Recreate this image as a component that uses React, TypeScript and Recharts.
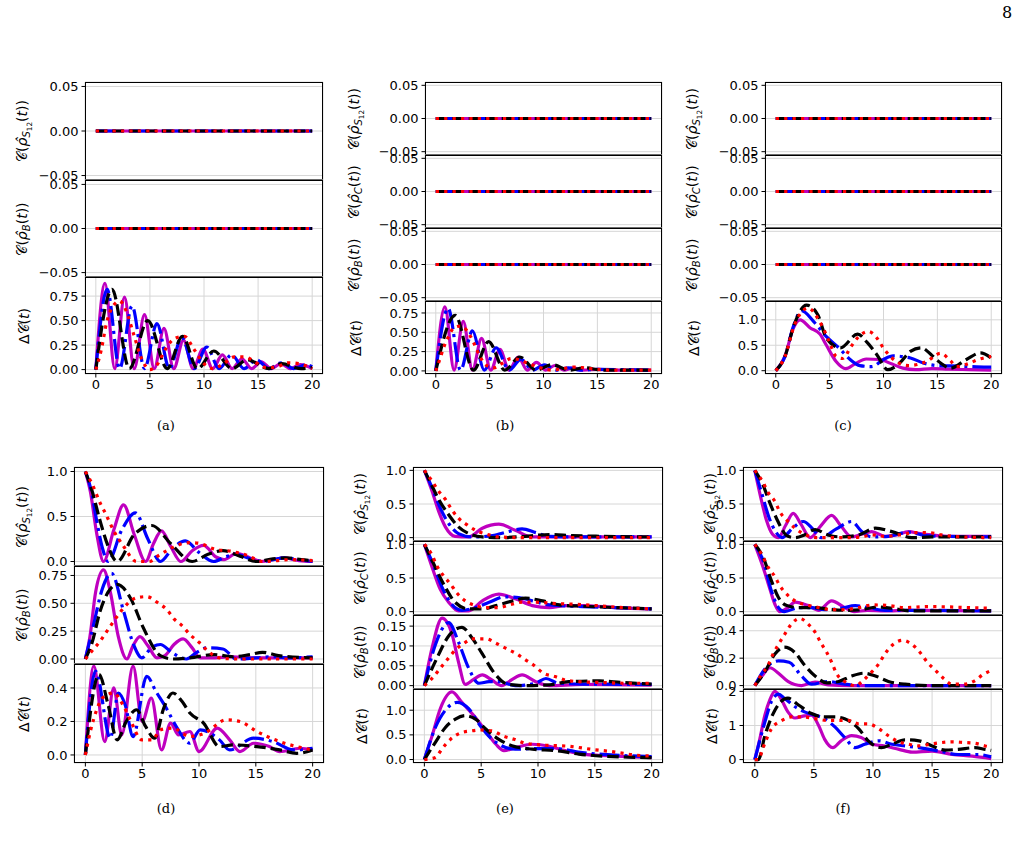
import React from "react"
import { LineChart, Line, XAxis, YAxis, CartesianGrid } from "recharts"

// each series: [t, value]
// order everywhere: magenta (solid), blue (dash-dot), black (dashed), red (dotted)

const xTicks = [0, 5, 10, 15, 20]
const zeroTicks = [-0.05, 0, 0.05]
const flat = [[0, 0], [20, 0]]

// (a) ΔC
const aM = [[0,0],[0.85,0.88],[1.75,0.01],[2.65,0.74],[3.55,0.01],[4.5,0.56],[5.4,0.01],[6.3,0.42],[7.2,0.01],[8.1,0.3],[9.0,0.01],[9.9,0.21],[10.8,0.01],[11.7,0.15],[12.6,0.01],[13.5,0.11],[14.4,0.01],[15.3,0.08],[16.2,0.01],[17.1,0.06],[18.0,0.01],[18.9,0.05],[20,0.01]]
const aB = [[0,0],[1.05,0.82],[2.2,0.01],[3.35,0.65],[4.5,0.01],[5.65,0.47],[6.8,0.01],[7.95,0.33],[9.1,0.01],[10.25,0.23],[11.4,0.01],[12.55,0.15],[13.7,0.01],[14.85,0.1],[16.0,0.01],[17.15,0.07],[18.3,0.01],[19.45,0.05],[20,0.03]]
const aK = [[0,0],[1.5,0.82],[3.1,0.01],[4.8,0.5],[6.6,0.01],[8.0,0.34],[9.4,0.01],[10.9,0.19],[12.6,0.01],[14.0,0.1],[16.0,0.01],[17.2,0.06],[19.0,0.01],[20,0.02]]
const aR = [[0,0],[0.5,0.2],[1.0,0.48],[1.6,0.65],[2.2,0.7],[2.8,0.6],[3.5,0.36],[4.2,0.12],[5.0,0.0],[5.6,0.04],[6.5,0.22],[7.3,0.32],[8.2,0.34],[9.0,0.22],[10.0,0.06],[10.8,0.01],[11.8,0.06],[12.8,0.13],[13.8,0.13],[14.8,0.07],[15.8,0.02],[16.8,0.03],[17.8,0.07],[18.8,0.06],[20,0.01]]

// (b) ΔC
const bM = [[0,0],[0.85,0.83],[1.7,0.01],[2.55,0.64],[3.4,0.01],[4.25,0.42],[5.1,0.01],[5.95,0.28],[6.8,0.01],[7.65,0.18],[8.5,0.01],[9.35,0.11],[10.2,0.01],[11.05,0.07],[11.9,0.01],[12.75,0.04],[13.6,0.01],[15,0.02],[17,0.01],[20,0.01]]
const bB = [[0,0],[1.15,0.81],[2.3,0.01],[3.4,0.52],[4.5,0.01],[5.6,0.3],[6.8,0.01],[7.9,0.15],[9.0,0.01],[10.1,0.08],[11.2,0.01],[12.3,0.04],[13.4,0.01],[15,0.02],[20,0.01]]
const bK = [[0,0],[1.8,0.72],[3.5,0.01],[4.9,0.38],[6.4,0.01],[7.8,0.18],[9.3,0.01],[10.8,0.08],[12.4,0.01],[13.8,0.04],[15.5,0.01],[20,0.01]]
const bR = [[0,0],[0.4,0.16],[0.7,0.29],[1.2,0.45],[1.7,0.56],[2.3,0.58],[2.9,0.52],[3.5,0.37],[4.1,0.19],[4.6,0.08],[5.4,0.04],[6.2,0.1],[7.0,0.16],[7.8,0.14],[8.7,0.09],[9.7,0.04],[10.8,0.01],[11.8,0.03],[12.8,0.05],[13.8,0.04],[15,0.02],[16.5,0.01],[20,0.01]]

// (c) ΔC
const cM = [[0,0],[0.85,0.28],[1.6,0.82],[2.25,1.0],[3.2,0.84],[4.1,0.72],[4.7,0.5],[5.6,0.18],[6.5,0.04],[7.4,0.14],[8.4,0.23],[9.6,0.22],[10.8,0.13],[11.8,0.05],[13.0,0.02],[14.5,0.04],[16,0.03],[18,0.02],[20,0.01]]
const cB = [[0,0],[0.85,0.28],[1.6,0.85],[2.4,1.18],[3.5,0.97],[4.7,0.67],[5.9,0.44],[6.9,0.22],[7.8,0.1],[8.9,0.08],[10.0,0.22],[10.9,0.29],[12.5,0.25],[13.7,0.15],[15,0.1],[17,0.09],[19.6,0.07],[20,0.07]]
const cK = [[0,0],[0.85,0.28],[1.7,0.9],[2.85,1.29],[3.9,1.1],[4.7,0.64],[6.0,0.45],[7.6,0.72],[8.5,0.55],[9.4,0.31],[10.4,0.02],[11.5,0.15],[12.5,0.38],[13.5,0.45],[14.5,0.3],[15.3,0.15],[16.2,0.05],[17.7,0.22],[19.0,0.35],[20,0.25]]
const cR = [[0,0],[0.85,0.28],[1.7,0.88],[3.0,1.23],[3.9,1.03],[4.4,0.84],[5.0,0.55],[5.6,0.28],[6.2,0.24],[7.0,0.48],[7.7,0.67],[8.6,0.77],[9.4,0.64],[10.0,0.44],[11.2,0.18],[12.3,0.1],[14.0,0.18],[15.3,0.34],[16.2,0.2],[16.8,0.08],[18.0,0.15],[18.8,0.22],[20,0.28]]

// (d)
const dM1 = [[0,1],[0.45,0.77],[1.0,0.31],[1.6,0.0],[2.5,0.35],[3.36,0.63],[4.3,0.3],[5.3,0.0],[6.0,0.2],[6.7,0.34],[7.5,0.17],[8.4,0.0],[9.4,0.12],[10.4,0.18],[11.5,0.05],[12.2,0.02],[13.3,0.09],[14.5,0.04],[15.5,0.0],[16.5,0.02],[17.5,0.04],[18.8,0.01],[20,0.0]]
const dB1 = [[0,1],[0.5,0.8],[1.0,0.45],[1.5,0.15],[2.0,0.0],[3.2,0.35],[4.4,0.54],[5.5,0.25],[6.6,0.0],[7.7,0.15],[8.8,0.23],[10.0,0.1],[11.3,0.0],[12.3,0.05],[13.3,0.08],[14.5,0.03],[15.6,0.0],[16.5,0.02],[17.5,0.04],[18.8,0.02],[20,0.0]]
const dK1 = [[0,1],[0.6,0.78],[1.3,0.45],[2.0,0.17],[2.8,0.0],[4.3,0.3],[5.85,0.4],[7.5,0.2],[9.4,0.0],[10.8,0.08],[12.1,0.12],[13.6,0.06],[15.1,0.0],[16.5,0.03],[17.7,0.04],[19,0.02],[20,0.01]]
const dR1 = [[0,1],[0.6,0.86],[1.3,0.65],[1.75,0.54],[2.5,0.34],[3.36,0.17],[4.5,0.0],[5.6,0.0],[6.5,0.07],[7.3,0.13],[8.3,0.19],[9.2,0.21],[10.1,0.2],[11.3,0.14],[13.0,0.11],[14.2,0.07],[15.6,0.0],[16.8,0.01],[18,0.02],[20,0.01]]

const dM2 = [[0,0],[0.4,0.2],[0.9,0.6],[1.6,0.8],[2.2,0.6],[2.9,0.2],[3.65,0.0],[4.2,0.12],[4.8,0.2],[5.5,0.12],[6.3,0.01],[7.0,0.03],[7.8,0.13],[8.6,0.18],[9.4,0.1],[10.1,0.01],[11,0.01],[13,0.02],[15,0.01],[20,0.01]]
const dB2 = [[0,0],[0.73,0.31],[1.46,0.62],[2.3,0.77],[3.36,0.43],[4.24,0.13],[4.97,0.01],[5.8,0.1],[6.6,0.13],[7.6,0.06],[8.9,0.0],[9.8,0.06],[10.7,0.1],[12.1,0.09],[13.3,0.0],[15,0.01],[16.5,0.02],[18,0.01],[20,0.02]]
const dK2 = [[0,0],[0.6,0.15],[1.3,0.43],[2.0,0.6],[2.8,0.67],[3.95,0.55],[5.1,0.28],[6.6,0.03],[7.7,0.0],[9.2,0.01],[11.3,0.04],[13.0,0.02],[14.5,0.04],[15.6,0.06],[17,0.03],[20,0.01]]
const dR2 = [[0,0],[0.73,0.09],[1.3,0.16],[1.9,0.25],[2.5,0.34],[3.07,0.42],[3.65,0.49],[4.5,0.55],[5.4,0.56],[6.3,0.51],[7.2,0.44],[7.8,0.36],[8.5,0.3],[9.2,0.22],[10.0,0.15],[10.8,0.07],[11.8,0.01],[13.3,0.0],[16,0.0],[20,0.0]]

const dM3 = [[0,0],[0.75,0.53],[1.7,0.08],[2.5,0.4],[3.2,0.12],[4.2,0.53],[5.0,0.2],[5.8,0.34],[6.7,0.03],[7.5,0.19],[8.2,0.12],[9.2,0.14],[10.0,0.02],[11.6,0.16],[12.7,0.09],[13.6,0.02],[14.8,0.07],[16.2,0.05],[17.1,0.02],[18.9,0.04],[20,0.03]]
const dB3 = [[0,0],[0.9,0.5],[2.2,0.1],[2.9,0.37],[3.5,0.3],[4.2,0.11],[5.4,0.47],[6.2,0.38],[7.2,0.27],[8.0,0.17],[9.2,0.07],[10.1,0.15],[11.8,0.09],[12.7,0.03],[14.8,0.1],[16.5,0.08],[18.3,0.03],[20,0.04]]
const dK3 = [[0,0],[1.2,0.48],[2.0,0.3],[2.8,0.09],[3.6,0.2],[4.5,0.27],[5.3,0.17],[6.1,0.1],[6.9,0.28],[7.7,0.37],[8.5,0.32],[9.2,0.25],[10.4,0.19],[11.8,0.05],[13.0,0.06],[15.1,0.05],[17.1,0.03],[18.6,0.01],[20,0.03]]
const dR3 = [[0,0],[0.44,0.14],[1.0,0.27],[1.5,0.34],[2.5,0.37],[3.3,0.3],[3.95,0.21],[4.97,0.09],[5.9,0.09],[6.6,0.15],[7.7,0.16],[9.2,0.11],[10.5,0.13],[12.4,0.21],[13.6,0.2],[15.1,0.14],[17.1,0.08],[18.6,0.05],[20,0.03]]

// (e)
const eM1 = [[0,1],[0.68,0.69],[1.26,0.39],[1.85,0.16],[2.7,0.02],[3.9,0.01],[5.1,0.14],[6.55,0.2],[8.0,0.11],[9.5,0.01],[12,0.01],[20,0.01]]
const eB1 = [[0,1],[0.68,0.74],[1.4,0.44],[2.14,0.21],[3.0,0.06],[4.2,0.01],[6.0,0.03],[7.4,0.09],[8.6,0.13],[9.8,0.075],[11,0.02],[14,0.01],[20,0.01]]
const eK1 = [[0,1],[0.53,0.82],[1.26,0.57],[2.14,0.34],[3.0,0.16],[3.9,0.06],[5.1,0.01],[6.8,0.0],[8.9,0.02],[11,0.045],[13,0.03],[15.4,0.02],[20,0.01]]
const eR1 = [[0,1],[0.68,0.84],[1.26,0.69],[1.85,0.57],[2.43,0.41],[3.0,0.29],[3.76,0.19],[4.6,0.1],[5.5,0.05],[6.55,0.01],[9,0.0],[20,0.0]]

const eM2 = [[0,1],[0.68,0.66],[1.4,0.33],[2.14,0.14],[3.0,0.01],[3.9,0.01],[5.1,0.16],[6.55,0.26],[8.0,0.19],[9.5,0.09],[11,0.06],[12.4,0.09],[13.9,0.09],[16.8,0.06],[20,0.04]]
const eB2 = [[0,1],[0.68,0.74],[1.56,0.36],[2.4,0.11],[3.3,0.02],[4.5,0.06],[5.7,0.14],[7.1,0.22],[8.3,0.21],[9.5,0.16],[11,0.1],[13.9,0.075],[16.8,0.06],[20,0.04]]
const eK2 = [[0,1],[0.68,0.76],[1.85,0.36],[2.7,0.14],[3.9,0.04],[5.1,0.04],[6.3,0.09],[7.8,0.16],[8.9,0.2],[10.4,0.16],[11.9,0.1],[14,0.08],[17,0.06],[20,0.04]]
const eR2 = [[0,1],[0.68,0.84],[1.1,0.68],[1.7,0.53],[2.3,0.41],[2.9,0.27],[3.6,0.16],[4.5,0.09],[5.5,0.06],[6.5,0.06],[7.7,0.11],[8.6,0.14],[9.8,0.14],[11.6,0.12],[13.3,0.11],[15.1,0.09],[17.5,0.06],[20,0.04]]

const eM3 = [[0,0],[0.68,0.095],[1.56,0.17],[2.43,0.13],[3.0,0.06],[3.6,0.003],[4.3,0.015],[5.1,0.027],[5.9,0.015],[6.8,0.0],[7.7,0.015],[8.6,0.027],[9.8,0.01],[11,0.0],[13.9,0.003],[20,0.001]]
const eB3 = [[0,0],[0.97,0.103],[2.14,0.159],[3.0,0.11],[3.9,0.044],[4.8,0.006],[5.7,0.01],[6.6,0.01],[8.0,0.0],[9.8,0.006],[10.7,0.018],[11.8,0.006],[14,0.004],[20,0.003]]
const eK3 = [[0,0],[0.97,0.061],[2.14,0.125],[3.3,0.147],[4.2,0.12],[5.1,0.08],[6.2,0.03],[7.4,0.003],[8.9,0.0],[11,0.002],[12.7,0.01],[15.4,0.012],[17.4,0.008],[20,0.004]]
const eR3 = [[0,0],[0.82,0.023],[1.4,0.044],[2.0,0.065],[2.73,0.09],[3.4,0.105],[4.35,0.118],[5.4,0.118],[6.3,0.107],[7.1,0.095],[8.0,0.082],[8.9,0.065],[9.6,0.052],[10.5,0.031],[11.5,0.023],[12.4,0.014],[13.6,0.01],[15.5,0.008],[17.5,0.006],[20,0.006]]

const eM4 = [[0,0],[0.68,0.48],[1.4,1.03],[2.43,1.37],[3.3,1.16],[4.35,0.89],[5.4,0.58],[6.3,0.31],[7.0,0.18],[8.0,0.24],[9.5,0.31],[11,0.27],[12.4,0.18],[13.9,0.11],[16.8,0.07],[20,0.04]]
const eB4 = [[0,0],[0.97,0.65],[1.85,1.0],[2.9,1.16],[3.9,1.03],[4.9,0.69],[5.96,0.41],[6.8,0.28],[8.0,0.21],[9.5,0.22],[11.6,0.22],[13.9,0.14],[16.8,0.09],[20,0.06]]
const eK4 = [[0,0],[0.97,0.35],[1.85,0.65],[2.73,0.82],[3.6,0.89],[4.5,0.82],[5.4,0.62],[6.55,0.41],[7.7,0.28],[9.5,0.21],[11.6,0.18],[13.6,0.11],[15.7,0.07],[20,0.04]]
const eR4 = [[0,0],[0.97,0.04],[1.56,0.22],[2.3,0.41],[3.2,0.54],[4.1,0.58],[4.9,0.6],[5.96,0.58],[7.0,0.47],[7.9,0.41],[8.9,0.33],[10.7,0.29],[12.7,0.27],[14.6,0.21],[16.5,0.16],[18.6,0.09],[20,0.07]]

// (f)
const fM1 = [[0,1],[0.5,0.6],[1.0,0.25],[1.5,0.05],[2.0,0.0],[2.6,0.18],[3.25,0.36],[3.9,0.2],[4.7,0.0],[5.6,0.18],[6.5,0.33],[7.3,0.17],[8.2,0.01],[9.0,0.05],[9.9,0.09],[11.0,0.02],[12.0,0.04],[13.0,0.09],[14.0,0.06],[15.0,0.04],[16.5,0.02],[20,0.02]]
const fB1 = [[0,1],[0.6,0.65],[1.2,0.3],[1.8,0.08],[2.3,0.0],[3.2,0.14],[4.1,0.24],[4.9,0.13],[5.6,0.0],[6.9,0.13],[8.2,0.24],[9.0,0.1],[9.9,0.01],[11.3,0.02],[13.0,0.08],[14.5,0.03],[16,0.02],[20,0.01]]
const fK1 = [[0,1],[0.7,0.78],[1.2,0.55],[1.8,0.3],[2.8,0.02],[3.4,0.0],[4.2,0.04],[5.1,0.12],[6.2,0.04],[7.3,0.01],[8.8,0.04],[10.2,0.14],[11.6,0.09],[13.3,0.0],[15.0,0.01],[20,0.01]]
const fR1 = [[0,1],[0.7,0.82],[1.13,0.67],[1.7,0.54],[2.1,0.39],[2.8,0.24],[3.4,0.14],[4.2,0.05],[5.2,0.0],[8.0,0.0],[9.0,0.01],[9.9,0.04],[11.0,0.02],[12.2,0.04],[13.6,0.075],[14.7,0.075],[15.8,0.04],[17.5,0.01],[20,0.0]]

const fM2 = [[0,1],[0.7,0.66],[1.27,0.34],[1.7,0.11],[2.1,0.0],[2.8,0.06],[3.4,0.14],[4.5,0.09],[5.4,0.02],[6.5,0.16],[7.6,0.06],[8.4,0.0],[9.5,0.02],[11,0.01],[13,0.02],[20,0.01]]
const fB2 = [[0,1],[0.7,0.76],[1.4,0.31],[2.0,0.06],[2.5,0.0],[3.7,0.06],[4.8,0.06],[5.9,0.03],[7.3,0.05],[8.5,0.09],[9.6,0.06],[11,0.02],[13,0.02],[20,0.01]]
const fK2 = [[0,1],[0.7,0.81],[1.4,0.46],[2.0,0.21],[2.7,0.09],[3.7,0.06],[5.0,0.06],[6.5,0.03],[7.7,0.02],[9.05,0.03],[10.4,0.07],[11.6,0.05],[13.3,0.01],[20,0.01]]
const fR2 = [[0,1],[0.7,0.81],[1.13,0.66],[1.7,0.52],[2.1,0.39],[2.7,0.26],[3.4,0.16],[4.4,0.1],[5.4,0.06],[6.5,0.03],[7.6,0.03],[8.8,0.06],[10,0.1],[11.3,0.09],[12.7,0.06],[14.7,0.075],[16.5,0.07],[18,0.06],[20,0.05]]

const fM3 = [[0,0],[0.7,0.08],[1.27,0.13],[2.0,0.09],[2.8,0.03],[3.95,0.0],[5.1,0.025],[6.2,0.005],[8,0.0],[20,0.0]]
const fB3 = [[0,0],[0.85,0.12],[2.0,0.18],[2.9,0.17],[3.95,0.07],[4.8,0.01],[6.2,0.03],[7.6,0.01],[9,0.0],[20,0.0]]
const fK3 = [[0,0],[0.85,0.1],[1.7,0.23],[2.5,0.28],[3.4,0.24],[4.2,0.15],[5.1,0.07],[6.1,0.02],[7.1,0.03],[8.2,0.07],[9.2,0.09],[10.2,0.07],[11.3,0.03],[12.7,0.01],[15,0.0],[20,0.0]]
const fR3 = [[0,0],[0.56,0.08],[1.13,0.15],[1.55,0.23],[2.0,0.3],[2.5,0.37],[3.1,0.45],[3.8,0.49],[4.5,0.45],[5.1,0.39],[5.6,0.31],[6.1,0.24],[6.5,0.17],[6.9,0.09],[7.6,0.03],[8.5,0.0],[9.2,0.04],[9.9,0.1],[10.5,0.16],[11.0,0.23],[11.7,0.3],[12.5,0.33],[13.3,0.3],[14.0,0.24],[14.6,0.17],[15.3,0.11],[16.0,0.05],[16.7,0.01],[17.7,0.01],[18.6,0.035],[19.3,0.08],[20,0.11]]

const fM4 = [[0,0],[0.42,0.6],[0.85,1.3],[1.27,1.75],[1.7,2.0],[2.26,1.75],[2.8,1.4],[3.4,1.22],[4.2,1.28],[4.8,1.3],[5.4,1.0],[5.9,0.6],[6.6,0.35],[7.3,0.55],[8.2,0.7],[9.0,0.65],[9.9,0.45],[11,0.4],[12.2,0.3],[13.3,0.22],[15,0.25],[16.7,0.15],[18.4,0.1],[20,0.03]]
const fB4 = [[0,0],[0.85,1.1],[1.4,1.7],[2.0,1.92],[2.5,1.8],[3.4,1.55],[4.2,1.4],[5.1,1.3],[5.9,1.2],[6.8,0.95],[7.6,0.65],[8.5,0.35],[9.3,0.45],[10.5,0.55],[11.6,0.45],[12.7,0.4],[13.9,0.35],[15.6,0.25],[17.2,0.15],[18.9,0.15],[20,0.08]]
const fK4 = [[0,0],[0.3,0.0],[0.85,0.7],[1.7,1.45],[2.8,1.8],[3.7,1.6],[4.8,1.35],[5.9,1.25],[6.8,1.25],[7.6,1.2],[8.8,0.9],[9.6,0.55],[10.7,0.35],[11.6,0.45],[12.7,0.58],[13.9,0.55],[15,0.4],[16.1,0.28],[17.2,0.3],[18.6,0.35],[19.5,0.3],[20,0.27]]
const fR4 = [[0,0],[0.3,0.0],[0.7,0.35],[1.4,0.9],[2.3,1.15],[3.1,1.25],[4.1,1.25],[5.1,1.2],[6.1,1.15],[7.1,1.15],[7.9,1.15],[8.8,1.05],[9.6,1.05],[10.5,0.9],[11.3,0.7],[12.0,0.55],[13.0,0.45],[13.9,0.4],[14.8,0.45],[15.8,0.5],[16.7,0.52],[17.7,0.5],[18.6,0.48],[19.5,0.4],[20,0.37]]

const FONT = "DejaVu Sans"
const COLORS = ["#bf00bf", "#0000ff", "#000000", "#ff0000"]
const DASHES = [undefined, "20 5 3 5", "11.5 5", "3.2 5.2"]

const Sb = ({ children }: { children: React.ReactNode }) => (
  <span style={{ fontSize: "0.72em", verticalAlign: "-0.3em" }}>{children}</span>
)

const lblS12 = <>𝒞(<i>ρ̂</i><Sb><i>S</i><Sb>12</Sb></Sb>(<i>t</i>))</>
const lblC = <>𝒞(<i>ρ̂</i><Sb><i>C</i></Sb>(<i>t</i>))</>
const lblB = <>𝒞(<i>ρ̂</i><Sb><i>B</i></Sb>(<i>t</i>))</>
const lblD = <>Δ𝒞(<i>t</i>)</>

interface Sub {
  label: React.ReactNode
  domain: number[]
  ticks: number[]
  dec: number
  series: number[][][]
}

const zeroSub = (label: React.ReactNode): Sub => ({
  label,
  domain: [-0.055, 0.055],
  ticks: zeroTicks,
  dec: 2,
  series: [flat, flat, flat, flat],
})

const panels = [
  {
    left: 85, width: 238, bounds: [82, 180, 277, 374], labelX: 24, caption: "(a)", capX: 166, capY: 425,
    subs: [zeroSub(lblS12), zeroSub(lblB),
      { label: lblD, domain: [-0.045, 0.945], ticks: [0, 0.25, 0.5, 0.75], dec: 2, series: [aM, aB, aK, aR] }],
  },
  {
    left: 425, width: 237, bounds: [82, 155, 228, 301, 374], labelX: 356, caption: "(b)", capX: 505, capY: 425,
    subs: [zeroSub(lblS12), zeroSub(lblC), zeroSub(lblB),
      { label: lblD, domain: [-0.04, 0.905], ticks: [0, 0.25, 0.5, 0.75], dec: 2, series: [bM, bB, bK, bR] }],
  },
  {
    left: 765, width: 237, bounds: [82, 155, 228, 301, 374], labelX: 694, caption: "(c)", capX: 843, capY: 425,
    subs: [zeroSub(lblS12), zeroSub(lblC), zeroSub(lblB),
      { label: lblD, domain: [-0.065, 1.37], ticks: [0, 0.5, 1], dec: 1, series: [cM, cB, cK, cR] }],
  },
  {
    left: 74, width: 250, bounds: [467, 566, 664, 763], labelX: 24, caption: "(d)", capX: 166, capY: 808,
    subs: [
      { label: lblS12, domain: [-0.05, 1.05], ticks: [0, 0.5, 1], dec: 1, series: [dM1, dB1, dK1, dR1] },
      { label: lblB, domain: [-0.045, 0.835], ticks: [0, 0.25, 0.5, 0.75], dec: 2, series: [dM2, dB2, dK2, dR2] },
      { label: lblD, domain: [-0.048, 0.543], ticks: [0, 0.2, 0.4], dec: 1, series: [dM3, dB3, dK3, dR3] },
    ],
  },
  {
    left: 413, width: 250, bounds: [467, 541, 615, 689, 763], labelX: 362, caption: "(e)", capX: 505, capY: 808,
    subs: [
      { label: lblS12, domain: [-0.05, 1.05], ticks: [0, 0.5, 1], dec: 1, series: [eM1, eB1, eK1, eR1] },
      { label: lblC, domain: [-0.05, 1.05], ticks: [0, 0.5, 1], dec: 1, series: [eM2, eB2, eK2, eR2] },
      { label: lblB, domain: [-0.0085, 0.178], ticks: [0, 0.05, 0.1, 0.15], dec: 2, series: [eM3, eB3, eK3, eR3] },
      { label: lblD, domain: [-0.07, 1.43], ticks: [0, 0.5, 1], dec: 1, series: [eM4, eB4, eK4, eR4] },
    ],
  },
  {
    left: 743, width: 260, bounds: [467, 541, 615, 689, 763], labelX: 712, caption: "(f)", capX: 843, capY: 808,
    subs: [
      { label: lblS12, domain: [-0.05, 1.05], ticks: [0, 0.5, 1], dec: 1, series: [fM1, fB1, fK1, fR1] },
      { label: lblC, domain: [-0.05, 1.05], ticks: [0, 0.5, 1], dec: 1, series: [fM2, fB2, fK2, fR2] },
      { label: lblB, domain: [-0.025, 0.515], ticks: [0, 0.2, 0.4], dec: 1, series: [fM3, fB3, fK3, fR3] },
      { label: lblD, domain: [-0.1, 2.07], ticks: [0, 1, 2], dec: 0, series: [fM4, fB4, fK4, fR4] },
    ],
  },
]

const YW = 52
const TP = 10
const RP = 10

function SubPlot({ sub, left, top, width, height, last }: {
  sub: Sub; left: number; top: number; width: number; height: number; last: boolean
}) {
  const bp = last ? 26 : 4
  const fmt = (v: number) => (v < 0 ? "\u2212" : "") + Math.abs(v).toFixed(sub.dec)
  return (
    <div style={{ position: "absolute", left: left - YW, top: top - TP, width: YW + width + RP, height: TP + height + bp }}>
      <LineChart width={YW + width + RP} height={TP + height + bp} margin={{ top: TP, right: RP, left: 0, bottom: 0 }}>
        <CartesianGrid stroke="#d6d6d6" strokeWidth={1} />
        <XAxis
          type="number"
          dataKey="t"
          domain={[-1, 21]}
          ticks={xTicks}
          interval={0}
          allowDataOverflow
          axisLine={false}
          tickLine={{ stroke: "#000" }}
          tickSize={3.5}
          tickMargin={2}
          height={bp}
          tick={last ? { fill: "#000", fontSize: 13, fontFamily: FONT } : false}
        />
        <YAxis
          type="number"
          domain={sub.domain}
          ticks={sub.ticks}
          interval={0}
          allowDataOverflow
          width={YW}
          axisLine={false}
          tickLine={{ stroke: "#000" }}
          tickSize={3.5}
          tickMargin={3}
          tickFormatter={fmt}
          tick={{ fill: "#000", fontSize: 13, fontFamily: FONT }}
        />
        {sub.series.map((s, i) => (
          <Line
            key={i}
            data={s.map(([t, v]) => ({ t, v }))}
            dataKey="v"
            type="monotone"
            stroke={COLORS[i]}
            strokeWidth={3.2}
            strokeDasharray={DASHES[i]}
            dot={false}
            activeDot={false}
            isAnimationActive={false}
          />
        ))}
      </LineChart>
      <div style={{ position: "absolute", left: YW, top: TP, width, height, border: "1px solid #000", boxSizing: "border-box", pointerEvents: "none" }} />
    </div>
  )
}

export default function App() {
  return (
    <div style={{ position: "absolute", left: 0, top: 0, width: 1018, height: 843, background: "#fff", overflow: "hidden" }}>
      <div style={{ position: "absolute", left: 1002, top: 3, fontFamily: "DejaVu Serif", fontSize: 16 }}>8</div>
      {panels.map((p, pi) => (
        <React.Fragment key={pi}>
          {p.subs.map((sub, si) => {
            const top = p.bounds[si]
            const h = p.bounds[si + 1] - top
            return (
              <React.Fragment key={si}>
                <SubPlot sub={sub as Sub} left={p.left} top={top} width={p.width} height={h} last={si === p.subs.length - 1} />
                <div style={{
                  position: "absolute", left: p.labelX, top: top + h / 2,
                  transform: "translate(-50%, -50%) rotate(-90deg)", whiteSpace: "nowrap",
                  fontFamily: FONT, fontSize: 14, lineHeight: 1,
                }}>{sub.label}</div>
              </React.Fragment>
            )
          })}
          <div style={{ position: "absolute", left: p.capX, top: p.capY, transform: "translate(-50%, -50%)", fontFamily: "DejaVu Serif", fontSize: 13 }}>{p.caption}</div>
        </React.Fragment>
      ))}
    </div>
  )
}
